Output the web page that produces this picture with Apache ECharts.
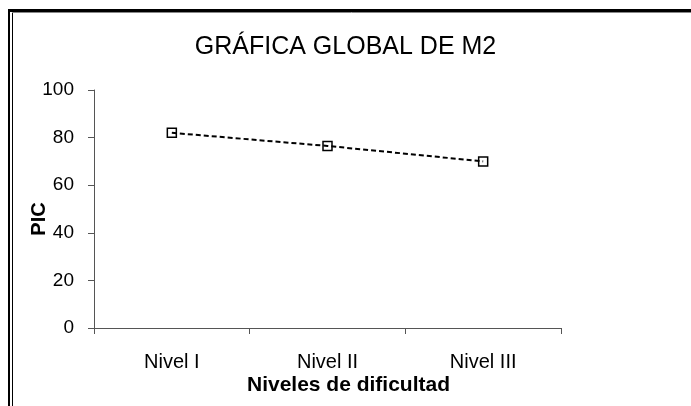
<!DOCTYPE html>
<html>
<head>
<meta charset="utf-8">
<script src="https://cdn.jsdelivr.net/npm/echarts@6/dist/echarts.min.js"></script>
<style>
    html, body { margin: 0; padding: 0; background: #fff; }
    #chart { width: 691px; height: 406px; }
</style>
</head>
<body>
<div id="chart"></div>
<script>
const categories = ['Nivel I', 'Nivel II', 'Nivel III'];
const picValues = [82, 76.5, 70];
const yTicks = { min: 0, max: 100, interval: 20 };

const font = "'Liberation Sans', Arial, sans-serif";

const myChart = echarts.init(document.getElementById('chart'));

const option = {
    backgroundColor: '#fff',
    animation: false,
    title: {
        text: 'GRÁFICA GLOBAL DE M2',
        left: 'center',
        top: 30,
        textStyle: {
            fontFamily: font,
            fontSize: 25,
            fontWeight: 'normal',
            color: '#000'
        }
    },
    grid: {
        left: 94,
        right: 130,
        top: 90,
        bottom: 78
    },
    xAxis: {
        type: 'category',
        data: categories,
        boundaryGap: true,
        name: 'Niveles de dificultad',
        nameLocation: 'middle',
        nameGap: 47,
        nameMoveOverlap: false,
        nameTextStyle: {
            fontFamily: font,
            fontSize: 21,
            fontWeight: 'bold',
            color: '#000',
            padding: [0, 0, 0, 42]
        },
        axisLine: { lineStyle: { color: '#555', width: 1 } },
        axisTick: { show: true, length: 6, lineStyle: { color: '#555' } },
        axisLabel: {
            margin: 24,
            fontFamily: font,
            fontSize: 20,
            color: '#000'
        },
        splitLine: { show: false }
    },
    yAxis: {
        type: 'value',
        min: yTicks.min,
        max: yTicks.max,
        interval: yTicks.interval,
        name: 'PIC',
        nameLocation: 'middle',
        nameRotate: 90,
        nameGap: 45,
        nameMoveOverlap: false,
        nameTextStyle: {
            fontFamily: font,
            fontSize: 20,
            fontWeight: 'bold',
            color: '#000',
            padding: [0, 20, 0, 0]
        },
        axisLine: { show: true, lineStyle: { color: '#555', width: 1 } },
        axisTick: { show: true, length: 6, lineStyle: { color: '#555' } },
        axisLabel: {
            margin: 20,
            fontFamily: font,
            fontSize: 19,
            color: '#000'
        },
        splitLine: { show: false }
    },
    series: [
        {
            name: 'PIC',
            type: 'line',
            data: picValues,
            symbol: 'rect',
            symbolSize: 9,
            showSymbol: true,
            lineStyle: {
                color: '#000',
                width: 2,
                type: [5, 3]
            },
            itemStyle: {
                color: 'rgba(255,255,255,0)',
                borderColor: '#000',
                borderWidth: 1.5
            }
        }
    ],
    graphic: [
        { type: 'line', shape: { x1: 8, y1: 10.5, x2: 691, y2: 10.5 }, style: { stroke: '#000', lineWidth: 3 } },
        { type: 'line', shape: { x1: 9, y1: 9, x2: 9, y2: 406 }, style: { stroke: '#000', lineWidth: 2 } },
        { type: 'line', shape: { x1: 12.5, y1: 12, x2: 12.5, y2: 406 }, style: { stroke: '#000', lineWidth: 1 } },
        { type: 'line', shape: { x1: 12, y1: 12.5, x2: 691, y2: 12.5 }, style: { stroke: '#888', lineWidth: 1 } }
    ]
};

myChart.setOption(option);
window.addEventListener('resize', myChart.resize);
</script>
</body>
</html>
